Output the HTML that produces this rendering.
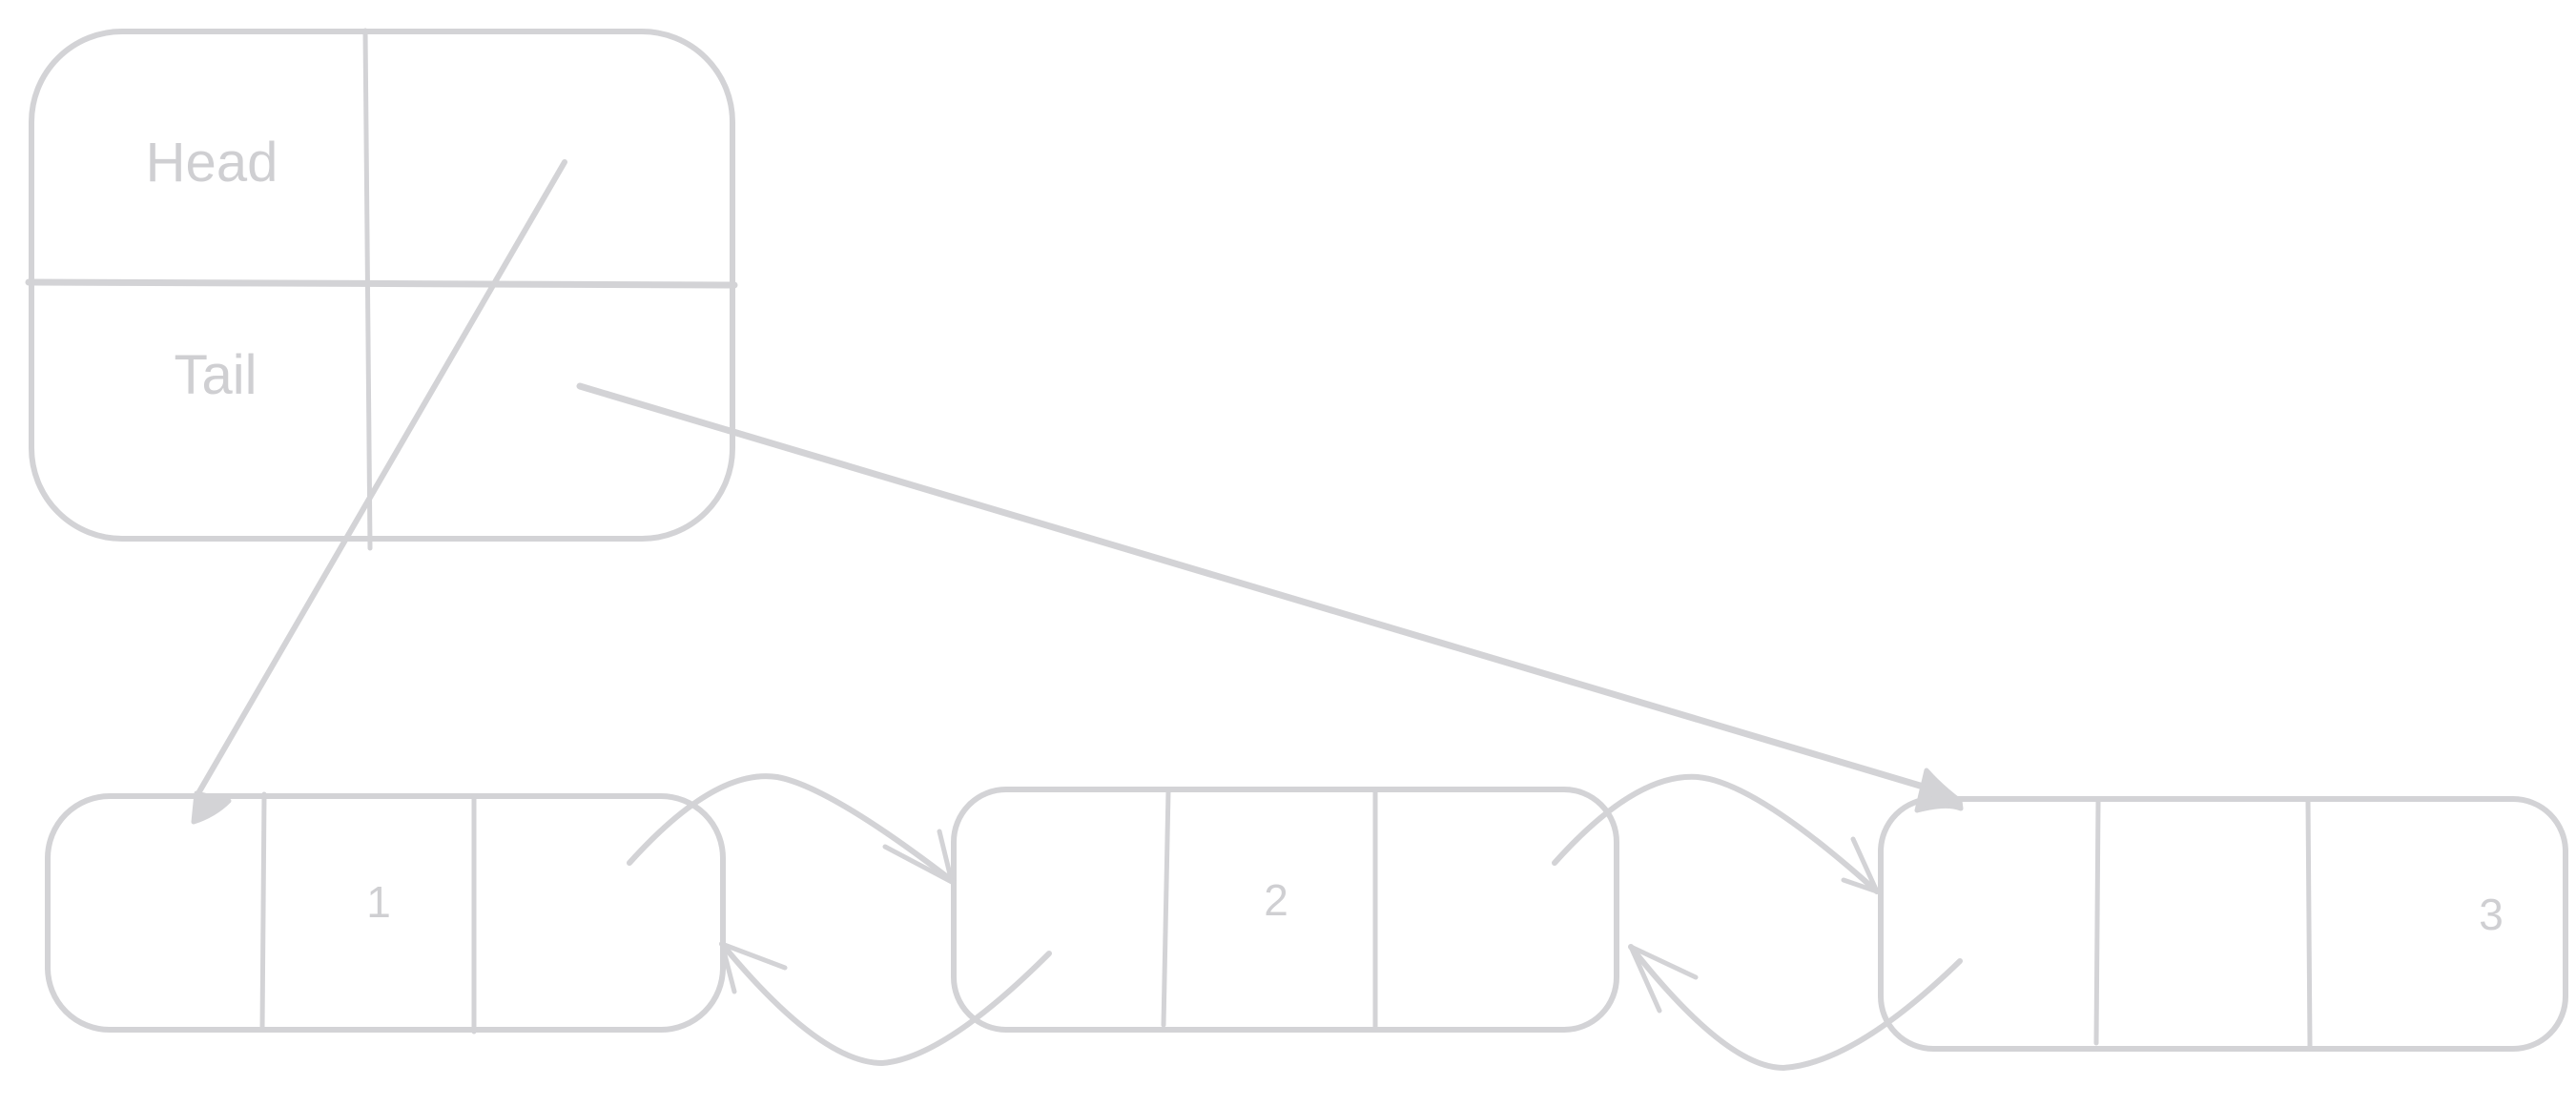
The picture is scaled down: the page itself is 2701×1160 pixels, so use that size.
<!DOCTYPE html>
<html><head><meta charset="utf-8"><style>html,body{margin:0;padding:0;background:#fff}svg{display:block}</style></head>
<body>
<svg width="2701" height="1160" viewBox="0 0 2701 1160" xmlns="http://www.w3.org/2000/svg">
<g fill="none" stroke="#d3d3d6" stroke-width="5" stroke-linecap="round" stroke-linejoin="round">
<rect x="33" y="33" width="735" height="532" rx="95" stroke-width="6"/>
<line x1="383" y1="32" x2="388" y2="575"/>
<line x1="30" y1="296" x2="770" y2="299" stroke-width="7"/>
<line x1="592" y1="170" x2="208" y2="832" stroke-width="6"/>
<path d="M206,832 L203,862 Q225,855 240,840 Z" fill="#d3d3d6"/>
<line x1="608" y1="405" x2="2040" y2="832" stroke-width="7"/>
<path d="M2020,808 L2010,850 Q2040,842 2056,848 L2055,840 Q2035,825 2020,808 Z" fill="#d3d3d6"/>
<rect x="50" y="835" width="708" height="245" rx="65" stroke-width="6"/>
<line x1="277" y1="833" x2="275" y2="1080"/>
<line x1="497" y1="837" x2="497" y2="1082"/>
<rect x="1000" y="828" width="695" height="252" rx="55" stroke-width="6"/>
<line x1="1225" y1="830" x2="1220" y2="1075"/>
<line x1="1442" y1="830" x2="1442" y2="1078"/>
<rect x="1972" y="838" width="718" height="262" rx="55" stroke-width="6"/>
<line x1="2200" y1="840" x2="2198" y2="1094"/>
<line x1="2420" y1="840" x2="2422" y2="1098"/>
<path d="M660,905 Q750,805 815,815 Q870,825 1000,925" stroke-width="6"/>
<path d="M985,872 L998,925 L928,888"/>
<path d="M1100,1000 Q990,1110 925,1115 Q860,1115 757,990" stroke-width="6"/>
<path d="M770,1040 L757,990 L823,1015"/>
<path d="M1630,905 Q1715,810 1780,815 Q1840,820 1968,935" stroke-width="6"/>
<path d="M1933,923 L1968,935 L1943,880"/>
<path d="M2055,1008 Q1945,1115 1870,1120 Q1810,1120 1710,993" stroke-width="6"/>
<path d="M1740,1060 L1710,993 L1778,1025"/>
</g>
<g font-family="'Liberation Sans', sans-serif" fill="#cfcfd2">
<text x="222" y="190" text-anchor="middle" font-size="58">Head</text>
<text x="226" y="413" text-anchor="middle" font-size="58">Tail</text>
<text x="397" y="962" text-anchor="middle" font-size="46">1</text>
<text x="1338" y="960" text-anchor="middle" font-size="46">2</text>
<text x="2612" y="975" text-anchor="middle" font-size="46">3</text>
</g>
</svg>
</body></html>
